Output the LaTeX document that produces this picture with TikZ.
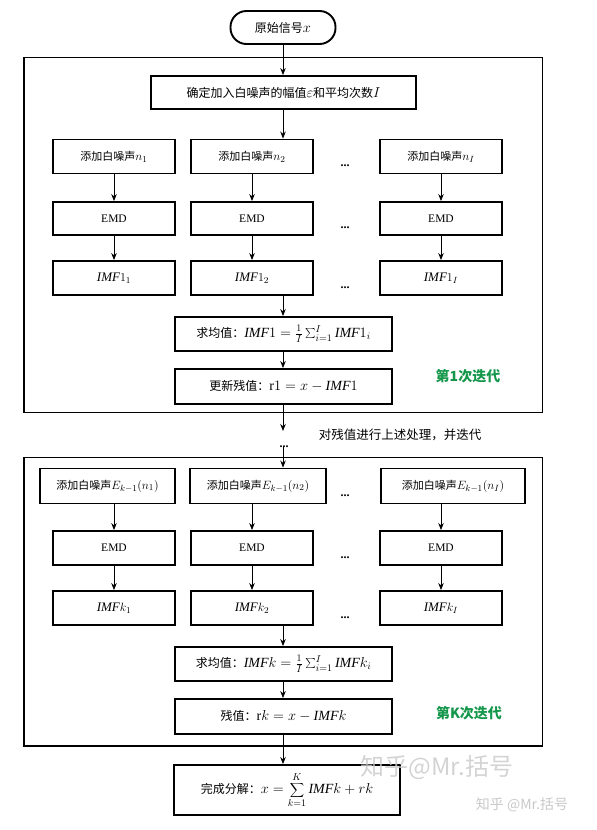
\documentclass[tikz,border=0pt]{standalone}
\usepackage{fontspec}
\setmainfont{Liberation Serif}
\newfontfamily\cjk{Noto Sans CJK SC}
\usetikzlibrary{arrows.meta}
\DeclareMathSizes{11}{13}{9}{7}
\DeclareMathSizes{12}{14}{10}{7}
\definecolor{itergreen}{RGB}{20,150,75}
\definecolor{wmgray}{RGB}{200,200,200}
\tikzset{
  box/.style={draw, line width=1.9pt, inner sep=0pt, align=center,
    font=\cjk\fontsize{11}{13}\selectfont},
  bigbox/.style={box, font=\cjk\fontsize{12}{14}\selectfont},
  arr/.style={-{Stealth[length=7pt,width=5.5pt]}, line width=0.8pt},
  dotsn/.style={anchor=base, font=\bfseries\fontsize{12}{12}\selectfont},
  itlabel/.style={font=\cjk\bfseries\fontsize{14}{16}\selectfont, text=itergreen},
  frame/.style={draw, line width=1.9pt},
}
\newcommand{\emdtext}{{\rmfamily\fontsize{11.5}{12}\selectfont EMD}}
\begin{document}
\begin{tikzpicture}[x=1pt,y=-1pt]
\useasboundingbox (0,0) rectangle (597,830);
% start
\node[bigbox, rounded corners=16pt, minimum width=105pt, minimum height=33pt] (start) at (283,27.5) {原始信号$x$};
% outer frame 1
\draw[frame] (24,57.5) rectangle (542.5,412.5);
\node[bigbox, minimum width=265pt, minimum height=33pt] (det) at (283.5,92.5) {确定加入白噪声的幅值$\varepsilon$和平均次数$I$};
% row 1 of block 1
\node[box, minimum width=122pt, minimum height=34pt] (a1) at (114,156.5) {添加白噪声$n_1$};
\node[box, minimum width=122pt, minimum height=34pt] (a2) at (252,156.5) {添加白噪声$n_2$};
\node[box, minimum width=122pt, minimum height=34pt] (a3) at (441,156.5) {添加白噪声$n_I$};
\node[box, minimum width=122pt, minimum height=33pt] (e1) at (114,218.5) {\emdtext};
\node[box, minimum width=122pt, minimum height=33pt] (e2) at (252,218.5) {\emdtext};
\node[box, minimum width=122pt, minimum height=33pt] (e3) at (441,218.5) {\emdtext};
\node[box, minimum width=122pt, minimum height=34pt] (m1) at (114,278) {$\mathit{IMF}1_1$};
\node[box, minimum width=122pt, minimum height=34pt] (m2) at (252,278) {$\mathit{IMF}1_2$};
\node[box, minimum width=122pt, minimum height=34pt] (m3) at (441,278) {$\mathit{IMF}1_I$};
\node[dotsn] (d1) at (345,166) {...};
\node[dotsn] (d2) at (345,228) {...};
\node[dotsn] (d3) at (345,288) {...};
\node[bigbox, minimum width=217pt, minimum height=34pt] (mean1) at (283.5,334) {求均值：$\mathit{IMF}1=\frac{1}{I}\sum_{i=1}^{I}\mathit{IMF}1_i$};
\node[bigbox, minimum width=217pt, minimum height=35pt] (upd1) at (283.5,386.5) {更新残值：$\mathrm{r}1=x-\mathit{IMF}1$};
\node[itlabel] (lab1) at (468,376) {第1次迭代};
% arrows block 1
\draw[arr] (start.south) -- (start.south |- det.north);
\draw[arr] (start.south |- det.south) -- (start.south |- a2.north);
\draw[arr] (a1) -- (e1);
\draw[arr] (a2) -- (e2);
\draw[arr] (a3) -- (e3);
\draw[arr] (e1) -- (m1);
\draw[arr] (e2) -- (m2);
\draw[arr] (e3) -- (m3);
\draw[arr] (start.south |- m2.south) -- (start.south |- mean1.north);
\draw[arr] (start.south |- mean1.south) -- (start.south |- upd1.north);
% between blocks
\coordinate (p1) at (283,431);
\draw[arr] (upd1.south -| p1) -- (p1);
\node[dotsn] (md) at (284,447) {...};
\node[font=\cjk\fontsize{12.5}{14}\selectfont] (mid) at (400,435) {对残值进行上述处理，并迭代};
% outer frame 2
\draw[frame] (24,457.5) rectangle (542.5,746);
\node[box, minimum width=135pt, minimum height=35pt] (b1) at (107.5,486) {添加白噪声$E_{k-1}(n_1)$};
\node[box, minimum width=136pt, minimum height=35pt] (b2) at (258,486) {添加白噪声$E_{k-1}(n_2)$};
\node[box, minimum width=144pt, minimum height=35pt] (b3) at (453,486) {添加白噪声$E_{k-1}(n_I)$};
\node[box, minimum width=122pt, minimum height=34pt] (f1) at (114,548) {\emdtext};
\node[box, minimum width=122pt, minimum height=34pt] (f2) at (252,548) {\emdtext};
\node[box, minimum width=122pt, minimum height=34pt] (f3) at (441,548) {\emdtext};
\node[box, minimum width=122pt, minimum height=34pt] (k1) at (114,608) {$\mathit{IMF}k_1$};
\node[box, minimum width=122pt, minimum height=34pt] (k2) at (252,608) {$\mathit{IMF}k_2$};
\node[box, minimum width=122pt, minimum height=34pt] (k3) at (441,608) {$\mathit{IMF}k_I$};
\node[dotsn] (g1) at (345,496) {...};
\node[dotsn] (g2) at (345,558) {...};
\node[dotsn] (g3) at (345,618) {...};
\node[bigbox, minimum width=217pt, minimum height=34pt] (mean2) at (283.5,664) {求均值：$\mathit{IMF}k=\frac{1}{I}\sum_{i=1}^{I}\mathit{IMF}k_i$};
\node[bigbox, minimum width=217pt, minimum height=35pt] (res2) at (283.5,716.5) {残值：$\mathrm{r}k=x-\mathit{IMF}k$};
\node[itlabel] (lab2) at (469,713) {第K次迭代};
\draw[arr] (p1 |- md.center) -- (p1 |- b2.north);
\draw[arr] (f1 |- b1.south) -- (f1.north);
\draw[arr] (f2 |- b2.south) -- (f2.north);
\draw[arr] (f3 |- b3.south) -- (f3.north);
\draw[arr] (f1) -- (k1);
\draw[arr] (f2) -- (k2);
\draw[arr] (f3) -- (k3);
\draw[arr] (p1 |- k2.south) -- (p1 |- mean2.north);
\draw[arr] (p1 |- mean2.south) -- (p1 |- res2.north);
% final
\node[bigbox, minimum width=226pt, minimum height=50pt] (final) at (287,790) {完成分解：$x=\displaystyle\sum_{k=1}^{K}\mathit{IMF}k+rk$};
\draw[arr] (p1 |- res2.south) -- (p1 |- final.north);
% watermarks
\node[font=\cjk\fontsize{24}{26}\selectfont, text=wmgray, opacity=0.8] (wm1) at (437,767) {知乎@Mr.括号};
\node[font=\cjk\fontsize{14}{16}\selectfont, text=wmgray] (wm2) at (522,805) {知乎 @Mr.括号};
\end{tikzpicture}
\end{document}
